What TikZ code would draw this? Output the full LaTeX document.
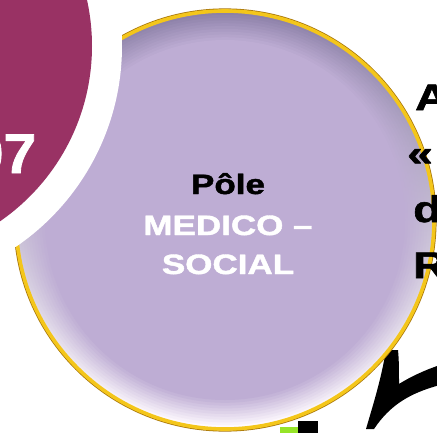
\documentclass[tikz,border=0pt]{standalone}
\usepackage{fontspec}
\setmainfont{Liberation Sans}
\newfontfamily\heavyfont[FakeBold=1.4]{Liberation Sans Bold}
\usepackage{graphicx}
\definecolor{polelilac}{RGB}{190,173,212}
\definecolor{lilacdark}{RGB}{140,128,168}
\definecolor{lilaclight}{RGB}{255,250,255}
\definecolor{badgemaroon}{RGB}{153,50,100}
\definecolor{rimgold}{RGB}{244,198,26}
\definecolor{rimgolddark}{RGB}{170,120,10}
\definecolor{leafgreen}{RGB}{150,228,40}
\newcommand{\stretchtxt}[1]{\scalebox{1.25}[1]{#1}}
\tikzset{
	poletext/.style={
		font=\heavyfont\fontsize{28}{32}\selectfont,
		inner sep=0pt,
		anchor=base
	},
	sidetext/.style={
		font=\heavyfont\fontsize{37}{42}\selectfont,
		inner sep=0pt,
		anchor=base west
	},
	badgetext/.style={
		font=\heavyfont\fontsize{56}{60}\selectfont,
		text=white,
		inner sep=0pt,
		anchor=base east
	}
}

\begin{document}
\begin{tikzpicture}[x=1pt,y=-1pt]
	
	\useasboundingbox (0,0) rectangle (437,432);
	\clip (0,0) rectangle (437,432);
	
	% Centres
	\coordinate (pole) at (225,220);
	\coordinate (badge) at (-121,46);
	
	% Shapes behind the disc
	\fill[black] (386,350) .. controls (381,380) and (373,405) .. (366,429) -- (374,429)
	.. controls (390,405) and (410,393) .. (440,385) -- (440,365)
	.. controls (425,370) and (410,377) .. (399,384)
	.. controls (399,370) and (399,360) .. (398,350) -- cycle;
	\fill[leafgreen] (280,427) rectangle (298,440);
	\fill[black] (298,421) rectangle (318,440);
	
	% Disc with bevelled rim
	\foreach \i [evaluate=\i as \rr using 208-2.8*\i,
	             evaluate=\i as \pp using int(100-10*\i)] in {0,...,10}
	  \shade[top color=lilacdark!\pp!polelilac,bottom color=lilaclight!\pp!polelilac] (pole) circle (\rr);
	\draw[rimgolddark,line width=1.2pt] (pole) circle (211);
	\draw[rimgold,line width=3.6pt] (pole) circle (209);
	
	% Badge
	\fill[white] (badge) circle (243);
	\fill[badgemaroon] (badge) circle (213);
	\node[badgetext] (num) at (36.5,173) {\scalebox{1.05}[1]{07}};
	
	% Texts
	\node[poletext,text=black] (pole1) at (228,194) {\stretchtxt{Pôle}};
	\node[poletext,text=white] (pole2) at (228,235) {\stretchtxt{MEDICO –}};
	\node[poletext,text=white] (pole3) at (228,274) {\stretchtxt{SOCIAL}};
	
	\node[sidetext] (side1) at (415,110) {\stretchtxt{A}};
	\node[sidetext] (side2) at (407,166) {\stretchtxt{«}};
	\node[sidetext] (side3) at (413,222) {\stretchtxt{d}};
	\node[sidetext] (side4) at (413,278) {\stretchtxt{R}};
	
\end{tikzpicture}
\end{document}
